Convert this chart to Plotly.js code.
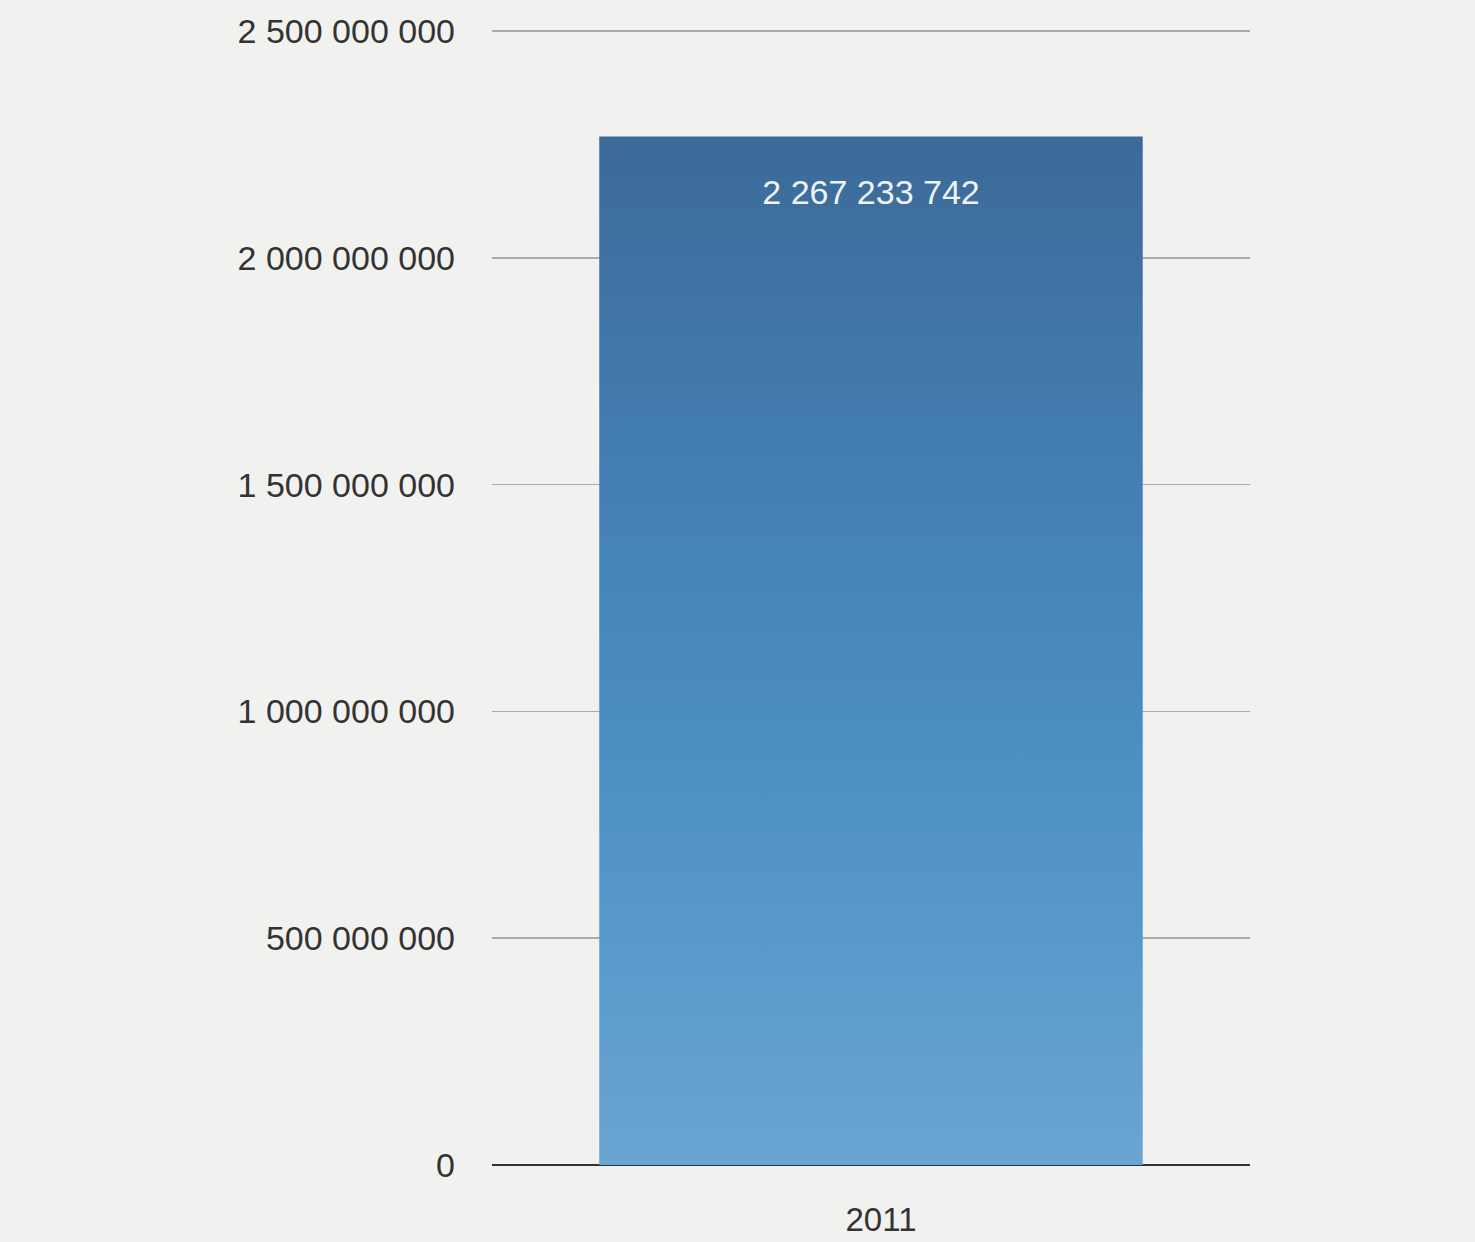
<!DOCTYPE html>
<html>
<head>
<meta charset="utf-8">
<script src="https://cdn.plot.ly/plotly-3.0.1.min.js"></script>
<style>
  html, body { margin: 0; padding: 0; background: #f1f1f0; }
  #chart { width: 1475px; height: 1242px; }
</style>
</head>
<body>
<div id="chart"></div>
<script>
const categories = ['2011'];
const values = [2267233742];
const yTicks = [0, 500000000, 1000000000, 1500000000, 2000000000, 2500000000];

const fontFamily = '"Liberation Sans", Arial, Helvetica, sans-serif';

const trace = {
  type: 'bar',
  x: categories,
  y: values,
  width: 0.717,
  texttemplate: '%{y:,d}',
  textposition: 'inside',
  insidetextanchor: 'end',
  constraintext: 'none',
  cliponaxis: false,
  textfont: { family: fontFamily, size: 34, color: '#eef3f8' },
  marker: { color: '#4a87bb', line: { width: 0 } },
  hoverinfo: 'skip'
};

const layout = {
  width: 1475,
  height: 1242,
  margin: { l: 492, r: 225, t: 29, b: 77 },
  paper_bgcolor: '#f1f1f0',
  plot_bgcolor: 'rgba(0,0,0,0)',
  separators: ', ',
  showlegend: false,
  font: { family: fontFamily, color: '#333333', size: 34 },
  xaxis: {
    type: 'category',
    range: [-0.5, 0.5],
    showgrid: false,
    showline: false,
    zeroline: false,
    ticks: '',
    ticklabelstandoff: 32,
    ticklabelshift: 10,
    tickfont: { size: 33, color: '#333333' }
  },
  yaxis: {
    range: [0, 2504400000],
    tickvals: yTicks,
    tickformat: ',d',
    showgrid: true,
    gridcolor: '#ababab',
    gridwidth: 1.5,
    zeroline: true,
    zerolinecolor: '#333333',
    zerolinewidth: 2.5,
    showline: false,
    ticks: '',
    ticklabelstandoff: 36,
    tickfont: { size: 34, color: '#333333' },
    layer: 'below traces'
  }
};

Plotly.newPlot('chart', [trace], layout, { staticPlot: true }).then(function (gd) {
  const svg = gd.querySelector('svg.main-svg');
  const ns = 'http://www.w3.org/2000/svg';
  let defs = svg.querySelector('defs');
  if (!defs) { defs = document.createElementNS(ns, 'defs'); svg.insertBefore(defs, svg.firstChild); }
  const grad = document.createElementNS(ns, 'linearGradient');
  grad.setAttribute('id', 'barGrad');
  grad.setAttribute('x1', '0'); grad.setAttribute('y1', '0');
  grad.setAttribute('x2', '0'); grad.setAttribute('y2', '1');
  [['0', '#3b6a99'], ['0.35', '#4580b4'], ['0.6', '#4b8fc3'], ['1', '#6aa5d2']].forEach(function (s) {
    const stop = document.createElementNS(ns, 'stop');
    stop.setAttribute('offset', s[0]);
    stop.setAttribute('stop-color', s[1]);
    grad.appendChild(stop);
  });
  defs.appendChild(grad);
  gd.querySelectorAll('.bars .point path').forEach(function (p) {
    p.style.fill = 'url(#barGrad)';
  });
  // push the value label a little further down inside the bar, as in the reference
  gd.querySelectorAll('.bars .point text').forEach(function (t) {
    const tr = t.getAttribute('transform') || '';
    t.setAttribute('transform', 'translate(0,33) ' + tr);
  });
});
</script>
</body>
</html>
